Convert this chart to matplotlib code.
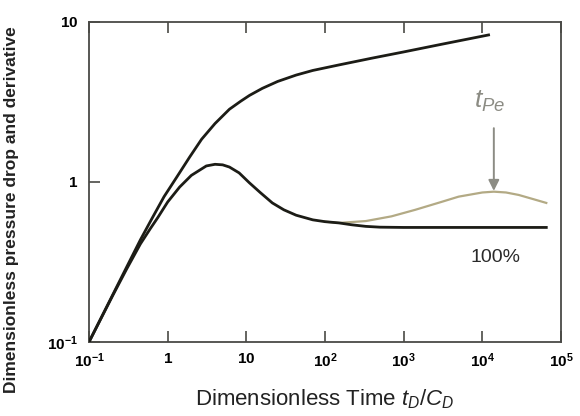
import matplotlib
matplotlib.use("Agg")
import matplotlib.pyplot as plt

# values (log-log type curve)
t_pressure = [0.1, 0.2, 0.3, 0.45, 0.63, 0.9, 1.3, 1.9, 2.7, 4.0, 6.1, 8.5, 11, 16, 25,
              43, 70, 150, 400, 1000, 3000, 12000]
p_pressure = [0.1, 0.197, 0.293, 0.435, 0.59, 0.81, 1.07, 1.43, 1.85, 2.32, 2.85, 3.2,
              3.48, 3.85, 4.25, 4.66, 4.98, 5.39, 5.95, 6.5, 7.25, 8.3]

t_deriv = [0.1, 0.2, 0.3, 0.45, 0.6, 0.75, 1.0, 1.42, 2.0, 3.1, 4.0, 5.0, 6.1, 8.1, 10.9,
           15, 21.4, 30, 43, 70, 100, 150, 220, 330, 500, 1000, 10000, 65000]
d_deriv = [0.1, 0.195, 0.285, 0.41, 0.51, 0.6, 0.75, 0.93, 1.1, 1.26, 1.29, 1.28, 1.24,
           1.14, 0.99, 0.86, 0.74, 0.67, 0.62, 0.58, 0.565, 0.555, 0.54, 0.528, 0.522,
           0.52, 0.52, 0.52]

t_hump = [100, 150, 330, 700, 1400, 3000, 5000, 10000, 14000, 20000, 29000, 45000, 65000]
d_hump = [0.565, 0.555, 0.57, 0.61, 0.67, 0.75, 0.81, 0.86, 0.87, 0.86, 0.83, 0.78, 0.74]

x_ticks = [0.1, 1, 10, 100, 1000, 10000, 100000]
x_labels = [r"$\mathbf{10^{-1}}$", r"$\mathbf{1}$", r"$\mathbf{10}$", r"$\mathbf{10^{2}}$",
            r"$\mathbf{10^{3}}$", r"$\mathbf{10^{4}}$", r"$\mathbf{10^{5}}$"]
y_ticks = [0.1, 1, 10]
y_labels = [r"$\mathbf{10^{-1}}$", r"$\mathbf{1}$", r"$\mathbf{10}$"]

plt.rcParams["font.family"] = ["Liberation Sans", "DejaVu Sans"]
plt.rcParams["mathtext.fontset"] = "custom"
plt.rcParams["mathtext.rm"] = "Liberation Sans"
plt.rcParams["mathtext.it"] = "Liberation Sans:italic"
plt.rcParams["mathtext.bf"] = "Liberation Sans:bold"

fig = plt.figure(figsize=(5.8, 4.16), dpi=100)
ax = fig.add_axes([89 / 580, 74 / 416, 472 / 580, 320 / 416])

line_col = "#1c1c16"
hump_col = "#b3aa85"
grey = "#8c8c84"

ax.plot(t_hump, d_hump, color=hump_col, lw=1.6, zorder=2)
ax.plot(t_deriv, d_deriv, color=line_col, lw=2.0, zorder=3)
ax.plot(t_pressure, p_pressure, color=line_col, lw=2.0, zorder=3)

ax.set_xscale("log")
ax.set_yscale("log")
ax.set_xlim(0.1, 1e5)
ax.set_ylim(0.1, 10)
ax.minorticks_off()
ax.set_xticks(x_ticks)
ax.set_xticklabels(x_labels)
ax.set_yticks(y_ticks)
ax.set_yticklabels(y_labels)

for s in ax.spines.values():
    s.set_color("#4a4a46")
    s.set_linewidth(1.3)
ax.tick_params(axis="x", direction="in", top=True, length=8, width=1.2,
               color="#4a4a46", labelsize=11, pad=7)
ax.tick_params(axis="y", direction="in", right=False, length=8, width=1.2,
               color="#4a4a46", labelsize=11, pad=8)

ax.set_xlabel(r"Dimensionless Time $t_D/C_D$", fontsize=16, color="#222222")
ax.xaxis.set_label_coords(0.5, -0.142)
ax.set_ylabel("Dimensionless pressure drop and derivative", fontsize=12.5,
              fontweight="bold", color="#222222")
ax.yaxis.set_label_coords(-0.148, 0.415)

ax.annotate("", xy=(14000, 0.88), xytext=(14000, 2.17),
            arrowprops=dict(arrowstyle="-|>", color=grey, lw=1.4,
                            mutation_scale=16, shrinkA=0, shrinkB=0))
ax.text(12300, 3.2, r"$t_{Pe}$", color=grey, fontsize=19, ha="center", va="center")
ax.text(14500, 0.335, "100%", color="#2a2a2a", fontsize=14, ha="center", va="center")

fig.savefig("out.png", dpi=100)
